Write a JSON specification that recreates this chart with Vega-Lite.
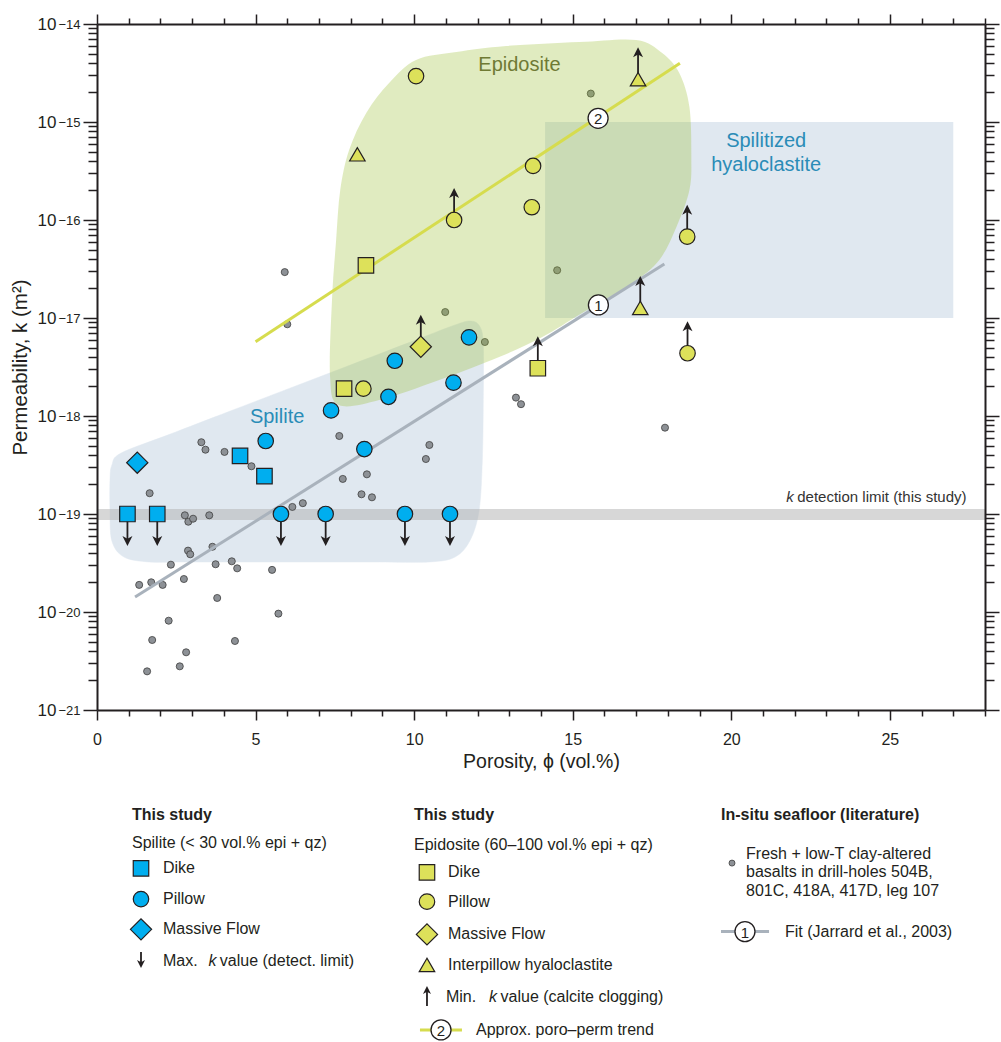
{
  "$schema": "https://vega.github.io/schema/vega-lite/v6.json",
  "background": "white",
  "padding": {"left": 10, "top": 13, "right": 1, "bottom": 0},
  "config": {"view": {"stroke": null}, "font": "Liberation Sans"},
  "bounds": "flush",
  "spacing": 80,
  "datasets": {
    "regions": [{"name": "Spilitized hyaloclastite", "phi": 14.13, "phi2": 27, "k": 1e-17, "k2": 1e-15}],
    "band": [{"name": "k detection limit", "phi": 0, "phi2": 28, "k": 8.7e-20, "k2": 1.125e-19}],
    "blobs": [
      {"blob": "Spilite", "i": 0, "phi": 0.41, "k": 1.10e-19},
      {"blob": "Spilite", "i": 1, "phi": 0.41, "k": 2.22e-19},
      {"blob": "Spilite", "i": 2, "phi": 0.47, "k": 3.16e-19},
      {"blob": "Spilite", "i": 3, "phi": 0.76, "k": 4.19e-19},
      {"blob": "Spilite", "i": 4, "phi": 2.27, "k": 6.46e-19},
      {"blob": "Spilite", "i": 5, "phi": 4.16, "k": 1.11e-18},
      {"blob": "Spilite", "i": 6, "phi": 6.06, "k": 1.91e-18},
      {"blob": "Spilite", "i": 7, "phi": 7.95, "k": 3.27e-18},
      {"blob": "Spilite", "i": 8, "phi": 9.84, "k": 5.61e-18},
      {"blob": "Spilite", "i": 9, "phi": 11.29, "k": 8.49e-18},
      {"blob": "Spilite", "i": 10, "phi": 11.80, "k": 9.31e-18},
      {"blob": "Spilite", "i": 11, "phi": 12.08, "k": 8.09e-18},
      {"blob": "Spilite", "i": 12, "phi": 12.18, "k": 5.30e-18},
      {"blob": "Spilite", "i": 13, "phi": 12.18, "k": 1.46e-18},
      {"blob": "Spilite", "i": 14, "phi": 12.15, "k": 3.56e-19},
      {"blob": "Spilite", "i": 15, "phi": 12.05, "k": 1.10e-19},
      {"blob": "Spilite", "i": 16, "phi": 11.77, "k": 5.43e-20},
      {"blob": "Spilite", "i": 17, "phi": 11.29, "k": 3.64e-20},
      {"blob": "Spilite", "i": 18, "phi": 10.47, "k": 3.24e-20},
      {"blob": "Spilite", "i": 19, "phi": 8.90, "k": 3.24e-20},
      {"blob": "Spilite", "i": 20, "phi": 7.32, "k": 3.24e-20},
      {"blob": "Spilite", "i": 21, "phi": 5.74, "k": 3.24e-20},
      {"blob": "Spilite", "i": 22, "phi": 4.16, "k": 3.24e-20},
      {"blob": "Spilite", "i": 23, "phi": 2.59, "k": 3.24e-20},
      {"blob": "Spilite", "i": 24, "phi": 1.64, "k": 3.24e-20},
      {"blob": "Spilite", "i": 25, "phi": 0.85, "k": 3.64e-20},
      {"blob": "Spilite", "i": 26, "phi": 0.47, "k": 5.30e-20},
      {"blob": "Epidosite", "i": 0, "phi": 7.63, "k": 1.294e-18},
      {"blob": "Epidosite", "i": 1, "phi": 7.35, "k": 2.50e-18},
      {"blob": "Epidosite", "i": 2, "phi": 7.41, "k": 1.528e-17},
      {"blob": "Epidosite", "i": 3, "phi": 7.54, "k": 6.25e-17},
      {"blob": "Epidosite", "i": 4, "phi": 7.67, "k": 2.02e-16},
      {"blob": "Epidosite", "i": 5, "phi": 7.95, "k": 5.18e-16},
      {"blob": "Epidosite", "i": 6, "phi": 8.49, "k": 1.236e-15},
      {"blob": "Epidosite", "i": 7, "phi": 9.21, "k": 2.50e-15},
      {"blob": "Epidosite", "i": 8, "phi": 10.06, "k": 4.30e-15},
      {"blob": "Epidosite", "i": 9, "phi": 11.33, "k": 5.18e-15},
      {"blob": "Epidosite", "i": 10, "phi": 12.90, "k": 5.97e-15},
      {"blob": "Epidosite", "i": 11, "phi": 15.21, "k": 6.55e-15},
      {"blob": "Epidosite", "i": 12, "phi": 17.00, "k": 6.87e-15},
      {"blob": "Epidosite", "i": 13, "phi": 17.82, "k": 5.06e-15},
      {"blob": "Epidosite", "i": 14, "phi": 18.36, "k": 3.16e-15},
      {"blob": "Epidosite", "i": 15, "phi": 18.68, "k": 1.422e-15},
      {"blob": "Epidosite", "i": 16, "phi": 18.74, "k": 4.40e-16},
      {"blob": "Epidosite", "i": 17, "phi": 18.68, "k": 2.02e-16},
      {"blob": "Epidosite", "i": 18, "phi": 18.27, "k": 8.49e-17},
      {"blob": "Epidosite", "i": 19, "phi": 17.73, "k": 3.91e-17},
      {"blob": "Epidosite", "i": 20, "phi": 16.88, "k": 2.28e-17},
      {"blob": "Epidosite", "i": 21, "phi": 15.30, "k": 1.125e-17},
      {"blob": "Epidosite", "i": 22, "phi": 14.04, "k": 6.40e-18},
      {"blob": "Epidosite", "i": 23, "phi": 12.68, "k": 4.00e-18},
      {"blob": "Epidosite", "i": 24, "phi": 10.79, "k": 2.33e-18},
      {"blob": "Epidosite", "i": 25, "phi": 8.90, "k": 1.456e-18}
    ],
    "gray": [
      {"phi": 3.29, "k": 5.40e-19}, {"phi": 3.42, "k": 4.53e-19}, {"phi": 4.02, "k": 4.30e-19},
      {"phi": 4.87, "k": 3.07e-19}, {"phi": 7.64, "k": 6.25e-19}, {"phi": 1.66, "k": 1.63e-19},
      {"phi": 10.48, "k": 5.06e-19}, {"phi": 10.37, "k": 3.64e-19}, {"phi": 7.75, "k": 2.28e-19},
      {"phi": 8.51, "k": 2.54e-19}, {"phi": 8.34, "k": 1.59e-19}, {"phi": 8.67, "k": 1.48e-19},
      {"phi": 6.16, "k": 1.18e-19}, {"phi": 6.49, "k": 1.29e-19}, {"phi": 2.77, "k": 9.70e-20},
      {"phi": 2.88, "k": 8.34e-20}, {"phi": 3.03, "k": 8.95e-20}, {"phi": 3.54, "k": 9.70e-20},
      {"phi": 3.64, "k": 4.63e-20}, {"phi": 2.87, "k": 4.23e-20}, {"phi": 2.94, "k": 3.88e-20},
      {"phi": 2.33, "k": 3.04e-20}, {"phi": 3.74, "k": 3.07e-20}, {"phi": 4.25, "k": 3.29e-20},
      {"phi": 4.42, "k": 2.79e-20}, {"phi": 5.52, "k": 2.69e-20}, {"phi": 1.33, "k": 1.89e-20},
      {"phi": 1.71, "k": 2.01e-20}, {"phi": 2.07, "k": 1.89e-20}, {"phi": 2.74, "k": 2.17e-20},
      {"phi": 3.79, "k": 1.39e-20}, {"phi": 5.72, "k": 9.62e-21}, {"phi": 2.26, "k": 8.15e-21},
      {"phi": 1.74, "k": 5.18e-21}, {"phi": 2.81, "k": 3.88e-21}, {"phi": 4.35, "k": 5.06e-21},
      {"phi": 2.61, "k": 2.79e-21}, {"phi": 1.58, "k": 2.48e-21}, {"phi": 5.92, "k": 2.94e-17},
      {"phi": 6.00, "k": 8.63e-18}, {"phi": 10.98, "k": 1.15e-17}, {"phi": 12.23, "k": 5.69e-18},
      {"phi": 15.57, "k": 1.95e-15}, {"phi": 14.51, "k": 3.07e-17}, {"phi": 13.21, "k": 1.54e-18},
      {"phi": 13.37, "k": 1.32e-18}, {"phi": 17.91, "k": 7.60e-19}
    ],
    "study": [
      {"group": "Spilite", "marker": "Dike", "phi": 4.51, "k": 3.91e-19, "limit": "none"},
      {"group": "Spilite", "marker": "Dike", "phi": 5.28, "k": 2.44e-19, "limit": "none"},
      {"group": "Spilite", "marker": "Dike", "phi": 0.96, "k": 1e-19, "limit": "max"},
      {"group": "Spilite", "marker": "Dike", "phi": 1.90, "k": 1e-19, "limit": "max"},
      {"group": "Spilite", "marker": "Pillow", "phi": 5.32, "k": 5.56e-19, "limit": "none"},
      {"group": "Spilite", "marker": "Pillow", "phi": 7.38, "k": 1.14e-18, "limit": "none"},
      {"group": "Spilite", "marker": "Pillow", "phi": 9.19, "k": 1.57e-18, "limit": "none"},
      {"group": "Spilite", "marker": "Pillow", "phi": 8.43, "k": 4.60e-19, "limit": "none"},
      {"group": "Spilite", "marker": "Pillow", "phi": 11.24, "k": 2.19e-18, "limit": "none"},
      {"group": "Spilite", "marker": "Pillow", "phi": 9.39, "k": 3.66e-18, "limit": "none"},
      {"group": "Spilite", "marker": "Pillow", "phi": 11.73, "k": 6.35e-18, "limit": "none"},
      {"group": "Spilite", "marker": "Pillow", "phi": 5.80, "k": 1e-19, "limit": "max"},
      {"group": "Spilite", "marker": "Pillow", "phi": 7.21, "k": 1e-19, "limit": "max"},
      {"group": "Spilite", "marker": "Pillow", "phi": 9.71, "k": 1e-19, "limit": "max"},
      {"group": "Spilite", "marker": "Pillow", "phi": 11.13, "k": 1e-19, "limit": "max"},
      {"group": "Spilite", "marker": "Massive Flow", "phi": 1.27, "k": 3.34e-19, "limit": "none"},
      {"group": "Epidosite", "marker": "Dike", "phi": 7.79, "k": 1.90e-18, "limit": "none"},
      {"group": "Epidosite", "marker": "Dike", "phi": 8.48, "k": 3.45e-17, "limit": "none"},
      {"group": "Epidosite", "marker": "Dike", "phi": 13.90, "k": 3.07e-18, "limit": "min"},
      {"group": "Epidosite", "marker": "Pillow", "phi": 10.06, "k": 2.94e-15, "limit": "none"},
      {"group": "Epidosite", "marker": "Pillow", "phi": 11.26, "k": 1.0e-16, "limit": "min"},
      {"group": "Epidosite", "marker": "Pillow", "phi": 8.40, "k": 1.90e-18, "limit": "none"},
      {"group": "Epidosite", "marker": "Pillow", "phi": 13.75, "k": 3.56e-16, "limit": "none"},
      {"group": "Epidosite", "marker": "Pillow", "phi": 13.71, "k": 1.35e-16, "limit": "none"},
      {"group": "Epidosite", "marker": "Pillow", "phi": 18.61, "k": 6.76e-17, "limit": "min"},
      {"group": "Epidosite", "marker": "Pillow", "phi": 18.62, "k": 4.37e-18, "limit": "min"},
      {"group": "Epidosite", "marker": "Massive Flow", "phi": 10.21, "k": 5.09e-18, "limit": "min"},
      {"group": "Epidosite", "marker": "Interpillow hyaloclastite", "phi": 8.21, "k": 4.68e-16, "limit": "none"},
      {"group": "Epidosite", "marker": "Interpillow hyaloclastite", "phi": 17.06, "k": 2.73e-15, "limit": "min"},
      {"group": "Epidosite", "marker": "Interpillow hyaloclastite", "phi": 17.13, "k": 1.265e-17, "limit": "min"}
    ],
    "lines": [
      {"line": "fit", "phi": 1.2, "k": 1.42e-20},
      {"line": "fit", "phi": 17.89, "k": 3.56e-17},
      {"line": "trend", "phi": 5.0, "k": 5.73e-18},
      {"line": "trend", "phi": 18.38, "k": 3.97e-15}
    ],
    "numbers": [
      {"n": "1", "phi": 15.81, "k": 1.36e-17},
      {"n": "2", "phi": 15.8, "k": 1.09e-15}
    ],
    "annotations": [
      {"text": "Epidosite", "phi": 13.32, "k": 3.33e-15, "kind": "epi"},
      {"text": "Spilite", "phi": 5.68, "k": 8.43e-19, "kind": "spil"},
      {"text": "Spilitized", "phi": 21.10, "k": 5.52e-16, "kind": "spil"},
      {"text": "hyaloclastite", "phi": 21.10, "k": 3.18e-16, "kind": "spil"},
      {"text": "k", "phi": 21.73, "k": 1.337e-19, "kind": "noteItalic"},
      {"text": "detection limit (this study)", "phi": 22.08, "k": 1.337e-19, "kind": "note"}
    ],
    "legendText": [
      {"lx": 3.94, "ly": 0.99, "text": "This study", "kind": "bold"},
      {"lx": 35.7, "ly": 0.99, "text": "This study", "kind": "bold"},
      {"lx": 70.27, "ly": 0.99, "text": "In-situ seafloor (literature)", "kind": "bold"},
      {"lx": 3.94, "ly": 2.12, "text": "Spilite (< 30 vol.% epi + qz)", "kind": "plain"},
      {"lx": 7.43, "ly": 3.11, "text": "Dike", "kind": "plain"},
      {"lx": 7.43, "ly": 4.33, "text": "Pillow", "kind": "plain"},
      {"lx": 7.43, "ly": 5.53, "text": "Massive Flow", "kind": "plain"},
      {"lx": 7.43, "ly": 6.77, "text": "Max.", "kind": "plain"},
      {"lx": 12.55, "ly": 6.77, "text": "k", "kind": "italic"},
      {"lx": 13.83, "ly": 6.77, "text": "value (detect. limit)", "kind": "plain"},
      {"lx": 35.7, "ly": 2.18, "text": "Epidosite (60–100 vol.% epi + qz)", "kind": "plain"},
      {"lx": 39.53, "ly": 3.27, "text": "Dike", "kind": "plain"},
      {"lx": 39.53, "ly": 4.43, "text": "Pillow", "kind": "plain"},
      {"lx": 39.53, "ly": 5.73, "text": "Massive Flow", "kind": "plain"},
      {"lx": 39.53, "ly": 6.94, "text": "Interpillow hyaloclastite", "kind": "plain"},
      {"lx": 39.30, "ly": 8.20, "text": "Min.", "kind": "plain"},
      {"lx": 44.15, "ly": 8.20, "text": "k", "kind": "italic"},
      {"lx": 45.45, "ly": 8.20, "text": "value (calcite clogging)", "kind": "plain"},
      {"lx": 42.68, "ly": 9.52, "text": "Approx. poro–perm trend", "kind": "plain"},
      {"lx": 73.09, "ly": 2.54, "text": "Fresh + low-T clay-altered", "kind": "plain"},
      {"lx": 73.09, "ly": 3.27, "text": "basalts in drill-holes 504B,", "kind": "plain"},
      {"lx": 73.09, "ly": 4.0, "text": "801C, 418A, 417D, leg 107", "kind": "plain"},
      {"lx": 77.48, "ly": 5.62, "text": "Fit (Jarrard et al., 2003)", "kind": "plain"}
    ],
    "legendSymbols": [
      {"group": "Spilite", "marker": "Dike", "lx": 4.955, "ly": 3.11},
      {"group": "Spilite", "marker": "Pillow", "lx": 4.955, "ly": 4.33},
      {"group": "Spilite", "marker": "Massive Flow", "lx": 4.955, "ly": 5.53},
      {"group": "Epidosite", "marker": "Dike", "lx": 37.16, "ly": 3.27},
      {"group": "Epidosite", "marker": "Pillow", "lx": 37.16, "ly": 4.43},
      {"group": "Epidosite", "marker": "Massive Flow", "lx": 37.16, "ly": 5.73},
      {"group": "Epidosite", "marker": "Interpillow hyaloclastite", "lx": 37.16, "ly": 6.94}
    ],
    "legendGray": [{"lx": 71.51, "ly": 2.90}],
    "legendArrows": [
      {"dir": "down", "lx": 4.955, "ly": 6.43},
      {"dir": "up", "lx": 37.16, "ly": 8.57}
    ],
    "legendLines": [
      {"line": "fit", "lx": 70.27, "lx2": 75.68, "ly": 5.62},
      {"line": "trend", "lx": 36.37, "lx2": 41.10, "ly": 9.52}
    ],
    "legendNumbers": [
      {"n": "1", "lx": 72.97, "ly": 5.62},
      {"n": "2", "lx": 38.74, "ly": 9.52}
    ]
  },
  "vconcat": [
    {
      "width": 888,
      "height": 686,
      "encoding": {
        "x": {"field": "phi", "type": "quantitative", "scale": {"domain": [0, 28], "nice": false, "zero": false}, "axis": null},
        "y": {"field": "k", "type": "quantitative", "scale": {"type": "log", "domain": [1e-21, 1e-14], "nice": false}, "axis": null}
      },
      "resolve": {"axis": {"x": "independent", "y": "independent"}},
      "layer": [
        {
          "data": {"name": "regions"},
          "mark": {"type": "rect", "fill": "#e0e8f0", "strokeWidth": 0},
          "encoding": {
            "x": {"field": "phi", "type": "quantitative", "scale": {"domain": [0, 28], "nice": false, "zero": false},
              "axis": {"orient": "top", "values": [0,1,2,3,4,5,6,7,8,9,10,11,12,13,14,15,16,17,18,19,20,21,22,23,24,25,26,27,28],
                "labels": false, "title": null, "grid": false, "tickSize": 10, "tickWidth": 1.5, "tickColor": "#231f20",
                "domainColor": "#231f20", "domainWidth": 2, "zindex": 1,
                "encoding": {"ticks": {"y2": {"condition": {"test": "datum.value % 5 === 0", "value": -10}, "value": -6}}}}},
            "x2": {"field": "phi2"},
            "y": {"field": "k", "type": "quantitative", "scale": {"type": "log", "domain": [1e-21, 1e-14], "nice": false},
              "axis": {"orient": "right", "values": [1e-21,2e-21,3e-21,4e-21,5e-21,6e-21,7e-21,8e-21,9e-21,1e-20,2e-20,3e-20,4e-20,5e-20,6e-20,7e-20,8e-20,9e-20,1e-19,2e-19,3e-19,4e-19,5e-19,6e-19,7e-19,8e-19,9e-19,1e-18,2e-18,3e-18,4e-18,5e-18,6e-18,7e-18,8e-18,9e-18,1e-17,2e-17,3e-17,4e-17,5e-17,6e-17,7e-17,8e-17,9e-17,1e-16,2e-16,3e-16,4e-16,5e-16,6e-16,7e-16,8e-16,9e-16,1e-15,2e-15,3e-15,4e-15,5e-15,6e-15,7e-15,8e-15,9e-15,1e-14],
                "labels": false, "title": null, "grid": false, "tickSize": 14, "tickWidth": 1.5, "tickColor": "#231f20",
                "domainColor": "#231f20", "domainWidth": 2, "zindex": 1,
                "encoding": {"ticks": {"x2": {"condition": {"test": "abs(log(datum.value)/LN10 - round(log(datum.value)/LN10)) < 0.01", "value": 14}, "value": 9}}}}},
            "y2": {"field": "k2"}
          }
        },
        {
          "data": {"name": "blobs"},
          "transform": [{"filter": "datum.blob === 'Spilite'"}],
          "mark": {"type": "line", "interpolate": "cardinal-closed", "fill": "#e0e8f0", "color": "#e0e8f0", "strokeWidth": 0.5},
          "encoding": {"order": {"field": "i", "type": "quantitative"}}
        },
        {
          "data": {"name": "band"},
          "mark": {"type": "rect", "fill": "#b0b0b0", "opacity": 0.5, "strokeWidth": 0},
          "encoding": {
            "x2": {"field": "phi2"},
            "y": {"field": "k", "type": "quantitative", "scale": {"type": "log", "domain": [1e-21, 1e-14], "nice": false},
              "axis": {"orient": "left", "values": [1e-21,1e-20,1e-19,1e-18,1e-17,1e-16,1e-15,1e-14],
                "labelExpr": "['−14','−15','−16','−17','−18','−19','−20','−21'][-14 - round(log(datum.value)/LN10)]",
                "labelFontSize": 13, "labelColor": "#231f20", "labelPadding": 3, "labelDy": -7, "labelOverlap": false, "labelFlush": false,
                "title": null, "grid": false, "domain": false, "ticks": true, "tickSize": 14, "tickOpacity": 0, "zindex": 1}},
            "y2": {"field": "k2"}
          }
        },
        {
          "data": {"name": "gray"},
          "mark": {"type": "point", "shape": "circle", "filled": true, "fill": "#8d9196", "stroke": "#3d3d3d", "strokeWidth": 0.8, "size": 50, "opacity": 1},
          "encoding": {
            "x": {"field": "phi", "type": "quantitative", "scale": {"domain": [0, 28], "nice": false, "zero": false},
              "axis": {"orient": "bottom", "values": [0,1,2,3,4,5,6,7,8,9,10,11,12,13,14,15,16,17,18,19,20,21,22,23,24,25,26,27,28],
                "labelExpr": "datum.value % 5 === 0 ? datum.label : ''", "labelFontSize": 16, "labelColor": "#231f20", "labelPadding": 11,
                "labelFlush": false, "labelOverlap": false,
                "title": "Porosity, ϕ (vol.%)", "titleFontSize": 19.5, "titleFontWeight": "normal", "titleColor": "#231f20", "titlePadding": 5,
                "grid": false, "tickSize": 10, "tickWidth": 1.5, "tickColor": "#231f20",
                "domainColor": "#231f20", "domainWidth": 2, "zindex": 1,
                "encoding": {"ticks": {"y2": {"condition": {"test": "datum.value % 5 === 0", "value": 10}, "value": 6}}}}},
            "y": {"field": "k", "type": "quantitative", "scale": {"type": "log", "domain": [1e-21, 1e-14], "nice": false},
              "axis": {"orient": "left", "values": [1e-21,2e-21,3e-21,4e-21,5e-21,6e-21,7e-21,8e-21,9e-21,1e-20,2e-20,3e-20,4e-20,5e-20,6e-20,7e-20,8e-20,9e-20,1e-19,2e-19,3e-19,4e-19,5e-19,6e-19,7e-19,8e-19,9e-19,1e-18,2e-18,3e-18,4e-18,5e-18,6e-18,7e-18,8e-18,9e-18,1e-17,2e-17,3e-17,4e-17,5e-17,6e-17,7e-17,8e-17,9e-17,1e-16,2e-16,3e-16,4e-16,5e-16,6e-16,7e-16,8e-16,9e-16,1e-15,2e-15,3e-15,4e-15,5e-15,6e-15,7e-15,8e-15,9e-15,1e-14],
                "labelExpr": "abs(log(datum.value)/LN10 - round(log(datum.value)/LN10)) < 0.01 ? '10' : ''",
                "labelFontSize": 17, "labelColor": "#231f20", "labelPadding": 27, "labelOverlap": false, "labelFlush": false,
                "title": "Permeability, k (m²)", "titleFontSize": 20.5, "titleFontWeight": "normal", "titleColor": "#231f20", "titlePadding": 7,
                "grid": false, "tickSize": 14, "tickWidth": 1.5, "tickColor": "#231f20",
                "domainColor": "#231f20", "domainWidth": 2, "zindex": 1,
                "encoding": {"ticks": {"x2": {"condition": {"test": "abs(log(datum.value)/LN10 - round(log(datum.value)/LN10)) < 0.01", "value": -14}, "value": -9}}}}}
          }
        },
        {
          "data": {"name": "blobs"},
          "transform": [{"filter": "datum.blob === 'Epidosite'"}],
          "mark": {"type": "line", "interpolate": "cardinal-closed", "fill": "#98bc30", "fillOpacity": 0.3, "color": "#98bc30", "strokeOpacity": 0, "strokeWidth": 0},
          "encoding": {"order": {"field": "i", "type": "quantitative"}}
        },
        {
          "data": {"name": "lines"},
          "transform": [{"filter": "datum.line === 'fit'"}],
          "mark": {"type": "line", "color": "#a9b2bc", "strokeWidth": 3},
          "encoding": {}
        },
        {
          "data": {"name": "lines"},
          "transform": [{"filter": "datum.line === 'trend'"}],
          "mark": {"type": "line", "color": "#d6dc4e", "strokeWidth": 3},
          "encoding": {}
        },
        {
          "data": {"name": "study"},
          "transform": [{"filter": "datum.limit === 'min'"}],
          "mark": {"type": "rule", "color": "#231f20", "strokeWidth": 1.8, "y2Offset": -28},
          "encoding": {"y2": {"field": "k"}}
        },
        {
          "data": {"name": "study"},
          "transform": [{"filter": "datum.limit === 'max'"}],
          "mark": {"type": "rule", "color": "#231f20", "strokeWidth": 1.8, "y2Offset": 28},
          "encoding": {"y2": {"field": "k"}}
        },
        {
          "data": {"name": "study"},
          "transform": [{"filter": "datum.limit === 'min'"}],
          "mark": {"type": "point", "shape": "M0,-1L1,1L0,0.45L-1,1Z", "filled": true, "color": "#231f20", "size": 100, "opacity": 1, "yOffset": -27}
        },
        {
          "data": {"name": "study"},
          "transform": [{"filter": "datum.limit === 'max'"}],
          "mark": {"type": "point", "shape": "M0,1L1,-1L0,-0.45L-1,-1Z", "filled": true, "color": "#231f20", "size": 100, "opacity": 1, "yOffset": 27}
        },
        {
          "data": {"name": "study"},
          "mark": {"type": "point", "filled": true, "stroke": "#231f20", "strokeWidth": 1.2, "opacity": 1},
          "encoding": {
            "shape": {"field": "marker", "type": "nominal", "scale": {"domain": ["Dike", "Pillow", "Massive Flow", "Interpillow hyaloclastite"], "range": ["square", "circle", "diamond", "triangle-up"]}, "legend": null},
            "fill": {"field": "group", "type": "nominal", "scale": {"domain": ["Spilite", "Epidosite"], "range": ["#00aeef", "#dde15a"]}, "legend": null},
            "size": {"field": "marker", "type": "nominal", "scale": {"type": "ordinal", "domain": ["Dike", "Pillow", "Massive Flow", "Interpillow hyaloclastite"], "range": [240, 240, 450, 240]}, "legend": null}
          }
        },
        {
          "data": {"name": "numbers"},
          "mark": {"type": "point", "shape": "circle", "filled": true, "fill": "white", "stroke": "#231f20", "strokeWidth": 1.3, "size": 400, "opacity": 1}
        },
        {
          "data": {"name": "numbers"},
          "mark": {"type": "text", "fontSize": 15, "color": "#231f20", "align": "center", "baseline": "middle", "dy": 1},
          "encoding": {"text": {"field": "n"}}
        },
        {
          "data": {"name": "annotations"},
          "transform": [{"filter": "datum.kind === 'epi'"}],
          "mark": {"type": "text", "fontSize": 20, "color": "#6f7a34", "align": "center", "baseline": "alphabetic"},
          "encoding": {"text": {"field": "text"}}
        },
        {
          "data": {"name": "annotations"},
          "transform": [{"filter": "datum.kind === 'spil'"}],
          "mark": {"type": "text", "fontSize": 20, "color": "#2a8cb7", "align": "center", "baseline": "alphabetic"},
          "encoding": {"text": {"field": "text"}}
        },
        {
          "data": {"name": "annotations"},
          "transform": [{"filter": "datum.kind === 'note'"}],
          "mark": {"type": "text", "fontSize": 15, "color": "#333333", "align": "left", "baseline": "alphabetic"},
          "encoding": {"text": {"field": "text"}}
        },
        {
          "data": {"name": "annotations"},
          "transform": [{"filter": "datum.kind === 'noteItalic'"}],
          "mark": {"type": "text", "fontSize": 15, "fontStyle": "italic", "color": "#333333", "align": "left", "baseline": "alphabetic"},
          "encoding": {"text": {"field": "text"}}
        }
      ]
    },
    {
      "width": 888,
      "height": 252,
      "encoding": {
        "x": {"field": "lx", "type": "quantitative", "scale": {"domain": [0, 100], "nice": false, "zero": false}, "axis": null},
        "y": {"field": "ly", "type": "quantitative", "scale": {"domain": [0, 10], "reverse": true, "nice": false, "zero": false}, "axis": null}
      },
      "layer": [
        {
          "data": {"name": "legendLines"},
          "transform": [{"filter": "datum.line === 'fit'"}],
          "mark": {"type": "rule", "color": "#a9b2bc", "strokeWidth": 3},
          "encoding": {"x2": {"field": "lx2"}}
        },
        {
          "data": {"name": "legendLines"},
          "transform": [{"filter": "datum.line === 'trend'"}],
          "mark": {"type": "rule", "color": "#d6dc4e", "strokeWidth": 3},
          "encoding": {"x2": {"field": "lx2"}}
        },
        {
          "data": {"name": "legendNumbers"},
          "mark": {"type": "point", "shape": "circle", "filled": true, "fill": "white", "stroke": "#231f20", "strokeWidth": 1.3, "size": 400, "opacity": 1}
        },
        {
          "data": {"name": "legendNumbers"},
          "mark": {"type": "text", "fontSize": 15, "color": "#231f20", "align": "center", "baseline": "middle", "dy": 1},
          "encoding": {"text": {"field": "n"}}
        },
        {
          "data": {"name": "legendSymbols"},
          "mark": {"type": "point", "filled": true, "stroke": "#231f20", "strokeWidth": 1.2, "opacity": 1},
          "encoding": {
            "shape": {"field": "marker", "type": "nominal", "scale": {"domain": ["Dike", "Pillow", "Massive Flow", "Interpillow hyaloclastite"], "range": ["square", "circle", "diamond", "triangle-up"]}, "legend": null},
            "fill": {"field": "group", "type": "nominal", "scale": {"domain": ["Spilite", "Epidosite"], "range": ["#00aeef", "#dde15a"]}, "legend": null},
            "size": {"field": "marker", "type": "nominal", "scale": {"type": "ordinal", "domain": ["Dike", "Pillow", "Massive Flow", "Interpillow hyaloclastite"], "range": [240, 240, 450, 240]}, "legend": null}
          }
        },
        {
          "data": {"name": "legendGray"},
          "mark": {"type": "point", "shape": "circle", "filled": true, "fill": "#8d9196", "stroke": "#3d3d3d", "strokeWidth": 0.8, "size": 36, "opacity": 1}
        },
        {
          "data": {"name": "legendArrows"},
          "transform": [{"filter": "datum.dir === 'down'"}],
          "mark": {"type": "rule", "color": "#231f20", "strokeWidth": 1.8, "y2Offset": 13},
          "encoding": {"y2": {"field": "ly"}}
        },
        {
          "data": {"name": "legendArrows"},
          "transform": [{"filter": "datum.dir === 'up'"}],
          "mark": {"type": "rule", "color": "#231f20", "strokeWidth": 1.8, "y2Offset": -17},
          "encoding": {"y2": {"field": "ly"}}
        },
        {
          "data": {"name": "legendArrows"},
          "transform": [{"filter": "datum.dir === 'down'"}],
          "mark": {"type": "point", "shape": "M0,1L1,-1L0,-0.45L-1,-1Z", "filled": true, "color": "#231f20", "size": 64, "opacity": 1, "yOffset": 12}
        },
        {
          "data": {"name": "legendArrows"},
          "transform": [{"filter": "datum.dir === 'up'"}],
          "mark": {"type": "point", "shape": "M0,-1L1,1L0,0.45L-1,1Z", "filled": true, "color": "#231f20", "size": 64, "opacity": 1, "yOffset": -16}
        },
        {
          "data": {"name": "legendText"},
          "transform": [{"filter": "datum.kind === 'bold'"}],
          "mark": {"type": "text", "fontSize": 16, "fontWeight": "bold", "color": "#231f20", "align": "left", "baseline": "middle"},
          "encoding": {"text": {"field": "text"}}
        },
        {
          "data": {"name": "legendText"},
          "transform": [{"filter": "datum.kind === 'plain'"}],
          "mark": {"type": "text", "fontSize": 16, "color": "#231f20", "align": "left", "baseline": "middle"},
          "encoding": {"text": {"field": "text"}}
        },
        {
          "data": {"name": "legendText"},
          "transform": [{"filter": "datum.kind === 'italic'"}],
          "mark": {"type": "text", "fontSize": 16, "fontStyle": "italic", "color": "#231f20", "align": "left", "baseline": "middle"},
          "encoding": {"text": {"field": "text"}}
        }
      ]
    }
  ]
}
